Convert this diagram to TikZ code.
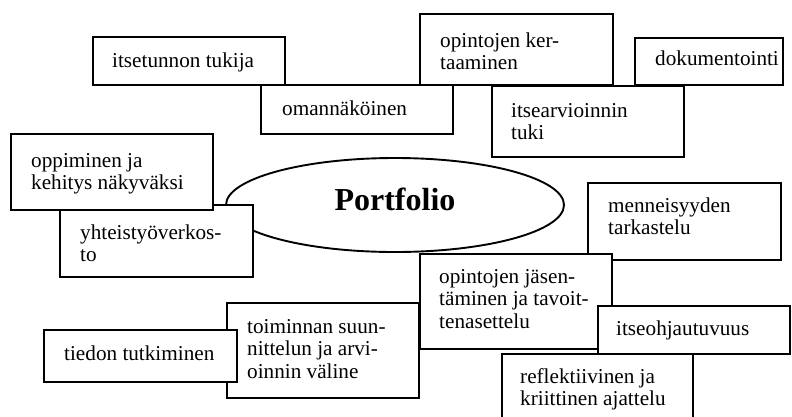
\documentclass[tikz,border=0pt]{standalone}
\usepackage{fontspec}
\setmainfont{Liberation Serif}
\usetikzlibrary{shapes.geometric}

% multi-line label whose baseline is the baseline of its first line
\newcommand\stack[1]{\begin{tabular}[t]{@{}l@{}}#1\end{tabular}}

\tikzset{
  conceptbox/.style={draw=black, line width=1.9pt, fill=white, rectangle,
    inner sep=0pt, anchor=north west},
  boxtext/.style={anchor=base west, inner sep=0pt,
    font=\fontsize{21.2}{22.6}\selectfont},
  hub/.style={draw=black, line width=1.9pt, fill=white, ellipse, inner sep=0pt,
    minimum width=338pt, minimum height=94pt},
  hubtext/.style={anchor=base, inner sep=0pt,
    font=\fontsize{32}{36}\selectfont\bfseries}
}

% \concept{name}{x1}{y1}{x2}{y2}{text x}{first baseline y}{text}
\newcommand\concept[8]{%
  \node[conceptbox, minimum width={(#4-#2)*1pt}, minimum height={(#5-#3)*1pt}]
    (#1) at (#2,#3) {};
  \node[boxtext] (#1-text) at (#6,#7) {\stack{#8}};
}

\begin{document}
\begin{tikzpicture}[x=1pt, y=-1pt]
  \useasboundingbox (0,0) rectangle (792,416);
  \begin{scope}
  \clip (0,0) rectangle (792,416);

  \concept{selfesteem}{92}{36}{284}{84}{112}{67}{itsetunnon tukija}
  \concept{revision}{419}{13}{612}{84}{440}{47}{opintojen ker-\\taaminen}
  \concept{documenting}{634}{37}{782}{84}{655}{65}{dokumentointi}
  \concept{own}{260}{84}{452}{133}{282}{115}{omannäköinen}
  \concept{selfassess}{491}{85}{683}{156}{511}{117}{itsearvioinnin\\tuki}

  % central ellipse
  \node[hub] (portfolio) at (395,205) {};
  \node[hubtext] (portfolio-text) at (395,210) {Portfolio};

  \concept{network}{59}{204}{252}{276}{80}{239}{yhteistyöverkos-\\to}
  \concept{learning}{10}{133}{212}{209}{31}{167}{oppiminen ja\\kehitys näkyväksi}
  \concept{past}{587}{182}{780}{259}{608}{212}{menneisyyden\\tarkastelu}
  \concept{structuring}{419}{253}{611}{348}{439}{283}{opintojen jäsen-\\täminen ja tavoit-\\tenasettelu}
  \concept{planning}{226}{302}{418}{397}{247}{333}{toiminnan suun-\\nittelun ja arvi-\\oinnin väline}
  \concept{research}{43}{329}{236}{381}{64}{360}{tiedon tutkiminen}
  \concept{reflective}{501}{353}{692}{432}{520}{383}{reflektiivinen ja\\kriittinen ajattelu}
  \concept{selfdirect}{597}{305}{789}{353}{616}{335}{itseohjautuvuus}
  \end{scope}
\end{tikzpicture}
\end{document}
